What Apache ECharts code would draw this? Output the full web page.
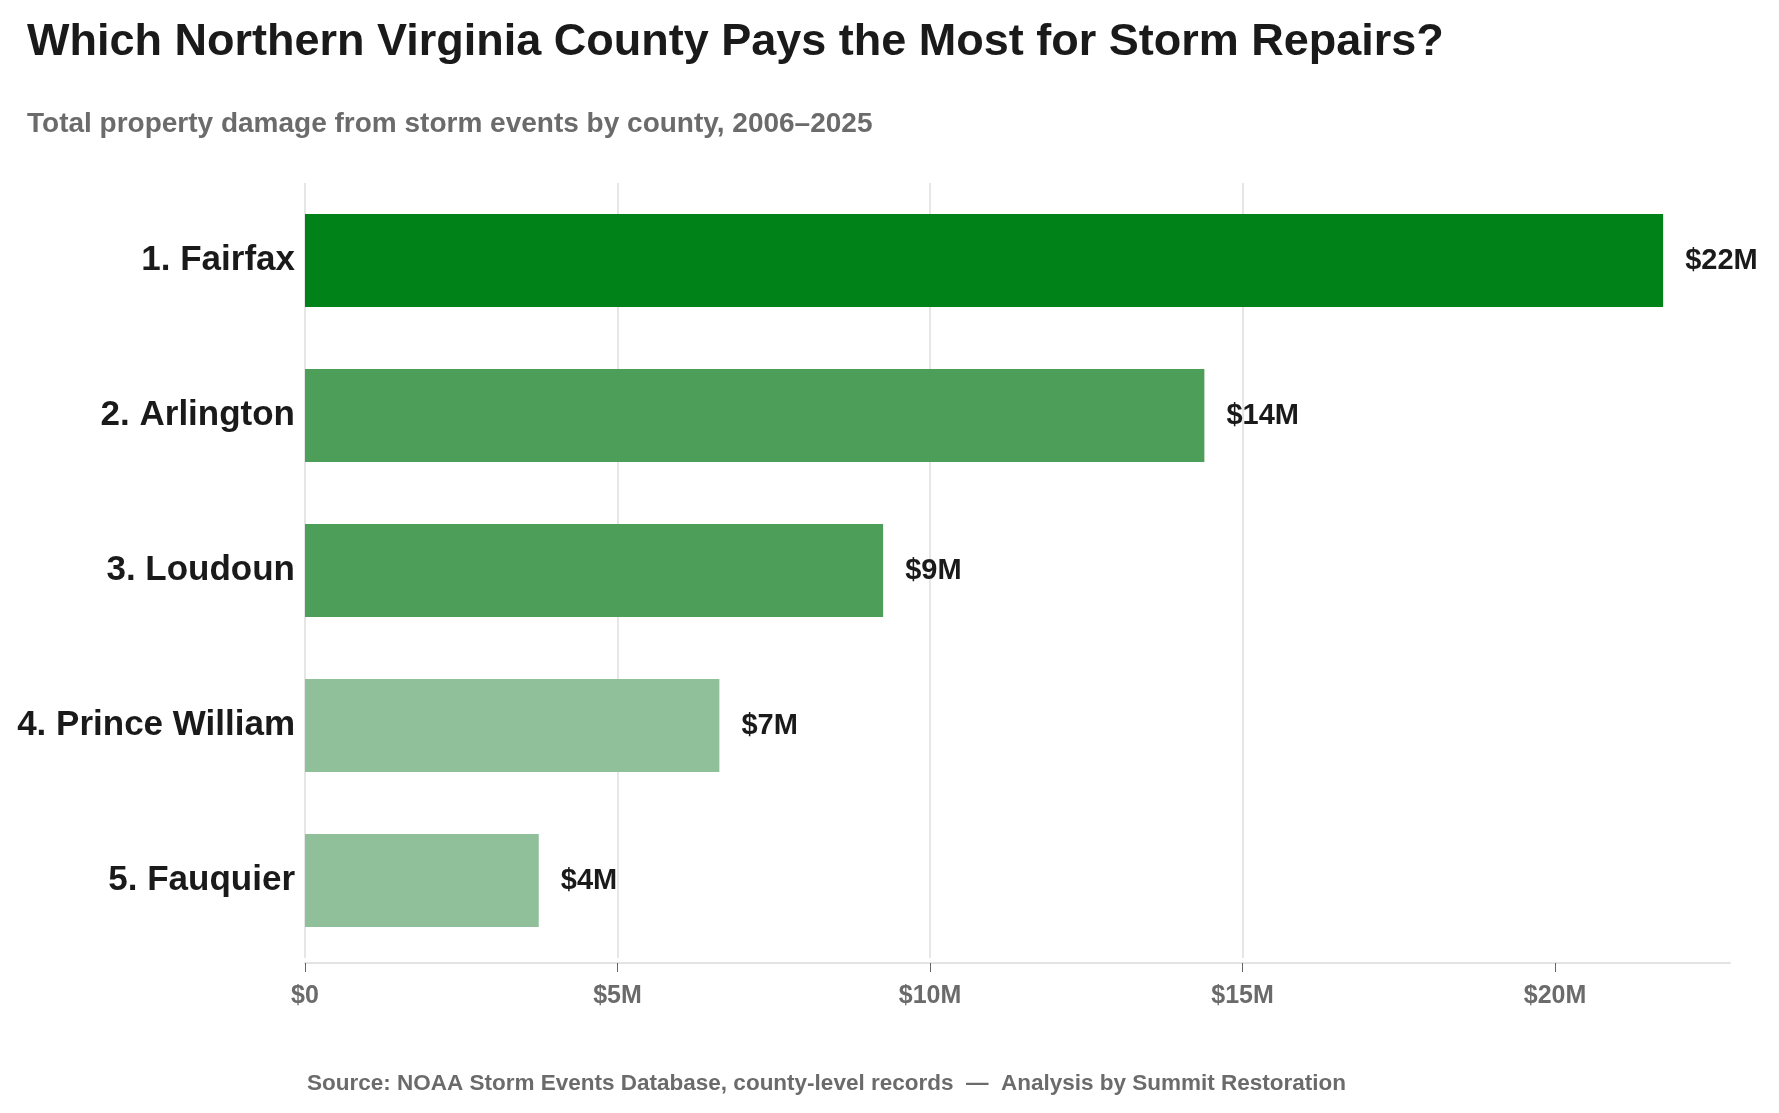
<!DOCTYPE html>
<html>
<head>
<meta charset="utf-8">
<script src="https://cdn.jsdelivr.net/npm/echarts@6/dist/echarts.min.js"></script>
<style>
	html, body { margin: 0; padding: 0; background: #fff; }
	#chart { width: 1779px; height: 1113px; }
</style>
</head>
<body>
<div id="chart"></div>
<script>
// 县名（按排名）
var counties = ['1. Fairfax', '2. Arlington', '3. Loudoun', '4. Prince William', '5. Fauquier'];
// 财产损失（百万美元）
var damage = [21.73, 14.39, 9.25, 6.63, 3.74];
// 柱子颜色
var barColors = ['#008218', '#4c9e59', '#4c9e59', '#90c09a', '#90c09a'];
// 横轴刻度
var xTicks = [0, 5, 10, 15, 20];

var FONT = '"Liberation Sans", Arial, sans-serif';

var myChart = echarts.init(document.getElementById('chart'));

var option = {
	backgroundColor: '#fff',
	animation: false,
	title: [{
		text: 'Which Northern Virginia County Pays the Most for Storm Repairs?',
		left: 22,
		top: 15,
		textStyle: { fontFamily: FONT, fontSize: 45, fontWeight: 'bold', color: '#1a1a1a', lineHeight: 45 }
	}, {
		text: 'Total property damage from storm events by county, 2006–2025',
		left: 22,
		top: 105,
		textStyle: { fontFamily: FONT, fontSize: 28, fontWeight: 'bold', color: '#6b6b6b', lineHeight: 28 }
	}, {
		text: 'Source: NOAA Storm Events Database, county-level records  —  Analysis by Summit Restoration',
		left: 302,
		top: 1068,
		textStyle: { fontFamily: FONT, fontSize: 22.5, fontWeight: 'bold', color: '#6b6b6b', lineHeight: 22 }
	}],
	grid: {
		left: 305,
		right: 49,
		top: 183,
		bottom: 155
	},
	xAxis: {
		type: 'value',
		min: 0,
		max: 22.8,
		interval: 5,
		offset: 5,
		axisLine: { show: true, lineStyle: { color: '#e3e3e3', width: 2 } },
		axisTick: { show: true, length: 9, lineStyle: { color: '#666', width: 1 }, customValues: xTicks },
		axisLabel: {
			customValues: xTicks,
			margin: 21,
			fontFamily: FONT,
			fontSize: 25,
			fontWeight: 'bold',
			color: '#6b6b6b',
			formatter: function(v) { return v === 0 ? '$0' : '$' + v + 'M'; }
		},
		splitLine: { show: true, showMaxLine: false, lineStyle: { color: '#e6e6e6', width: 2 } }
	},
	yAxis: {
		type: 'category',
		inverse: true,
		data: counties,
		axisLine: { show: false },
		axisTick: { show: false },
		axisLabel: {
			margin: 10,
			fontFamily: FONT,
			fontSize: 35,
			fontWeight: 'bold',
			color: '#1a1a1a'
		}
	},
	series: [{
		type: 'bar',
		barWidth: 93,
		data: damage.map(function(v, i) {
			return { value: v, itemStyle: { color: barColors[i] } };
		}),
		label: {
			show: true,
			position: 'right',
			distance: 22,
			fontFamily: FONT,
			fontSize: 29,
			fontWeight: 'bold',
			color: '#1a1a1a',
			formatter: function(p) { return '$' + Math.round(p.value) + 'M'; }
		}
	}]
};

myChart.setOption(option);
</script>
</body>
</html>
